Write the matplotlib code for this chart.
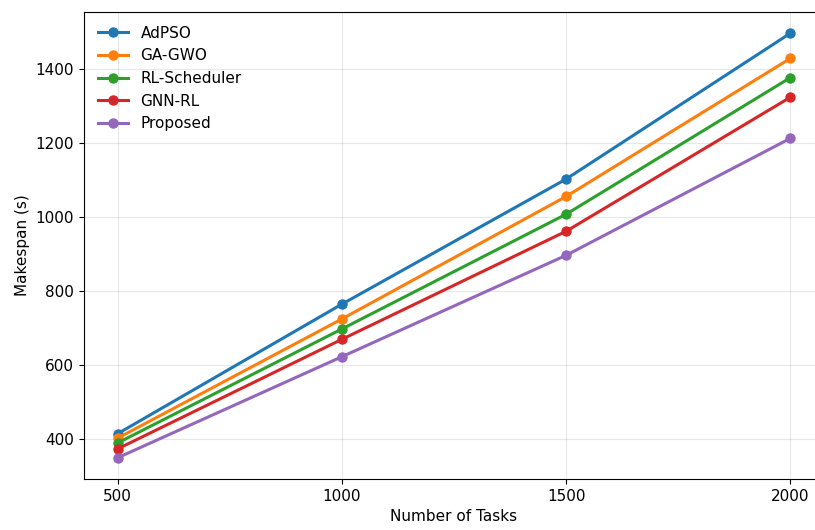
import matplotlib.pyplot as plt

tasks = [500, 1000, 1500, 2000]

adpso = [415, 765, 1103, 1497]
ga_gwo = [403, 725, 1056, 1429]
rl_sched = [390, 698, 1008, 1377]
gnn_rl = [374, 670, 962, 1324]
proposed = [350, 623, 897, 1213]

series = [
    ("AdPSO", adpso, "#1f77b4"),
    ("GA-GWO", ga_gwo, "#ff7f0e"),
    ("RL-Scheduler", rl_sched, "#2ca02c"),
    ("GNN-RL", gnn_rl, "#d62728"),
    ("Proposed", proposed, "#9467bd"),
]

fig = plt.figure(figsize=(8.15, 5.3), dpi=100)
ax = fig.add_axes([84 / 815, 51 / 530, 740 / 815, 467 / 530])

for name, vals, col in series:
    ax.plot(tasks, vals, marker="o", color=col, linewidth=2.2, markersize=6.5, label=name)

ax.set_xticks(tasks)
ax.tick_params(labelsize=11)
ax.set_xlabel("Number of Tasks", fontsize=11)
ax.set_ylabel("Makespan (s)", fontsize=11)
ax.grid(True, alpha=0.3)
ax.legend(loc="upper left", frameon=False, fontsize=11)

fig.savefig("out.png", dpi=100)
